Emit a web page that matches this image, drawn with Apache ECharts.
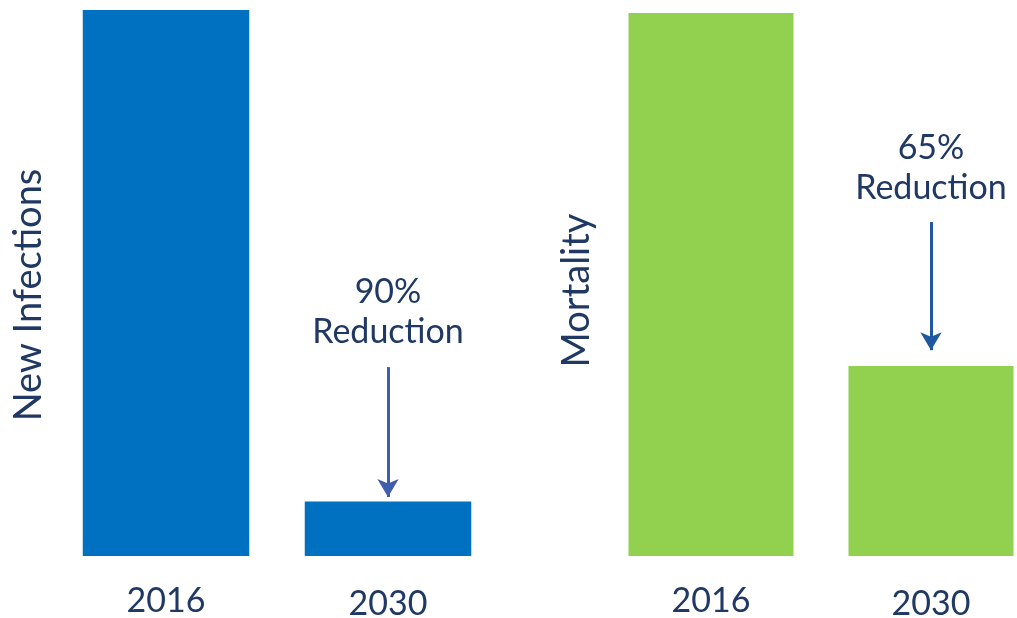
<!DOCTYPE html>
<html>
<head>
<meta charset="utf-8">
<script src="https://cdn.jsdelivr.net/npm/echarts@6/dist/echarts.min.js"></script>
<style>
  html, body { margin: 0; padding: 0; background: #ffffff; }
  #chart { width: 1017px; height: 618px; }
</style>
</head>
<body>
<div id="chart"></div>
<script>
// Indexed burden, 2016 = 100
const years = ['2016', '2030'];
const infections = [100, 10];
const mortality = [100, 35];

// Reduction call-outs: text, where the text block sits, arrow start and end (same index scale)
const infectionNote = ['90%', 'Reduction'];
const mortalityNote = ['65%', 'Reduction'];
const infectionNoteAt = 44.6;
const mortalityNoteAt = 71.5;
const infectionArrow = [34.6, 10.8];
const mortalityArrow = [61.5, 37.9];

const FONT = 'Lato, "Open Sans", sans-serif';
const NAVY = '#1F3864';
const BLUE = '#0070C0';
const GREEN = '#92D050';

const chart = echarts.init(document.getElementById('chart'));

function xAxisFor(gridIndex) {
  return {
    type: 'category',
    gridIndex: gridIndex,
    data: years,
    axisLine: { show: false },
    axisTick: { show: false },
    axisLabel: {
      margin: 28,
      formatter: function (v, i) { return '{' + (i === 0 ? 'a' : 'b') + '|' + v + '}'; },
      rich: {
        a: { color: NAVY, fontFamily: FONT, fontSize: 34 },
        b: { color: NAVY, fontFamily: FONT, fontSize: 34, padding: [3, 0, 0, 0] }
      }
    }
  };
}

// The title padding nudges the rotated text a little below the plot's middle
function yAxisFor(gridIndex, name, gap, shift) {
  return {
    type: 'value',
    gridIndex: gridIndex,
    min: 0,
    max: 100,
    name: name,
    nameLocation: 'middle',
    nameRotate: 90,
    nameGap: gap,
    nameTextStyle: { color: NAVY, fontFamily: FONT, fontSize: 38, padding: [0, shift, 0, 0] },
    axisLine: { show: false },
    axisTick: { show: false },
    axisLabel: { show: false },
    splitLine: { show: false }
  };
}

function barSeries(idx, values, color, note, noteAt, arrow, arrowColor) {
  return {
    type: 'bar',
    xAxisIndex: idx,
    yAxisIndex: idx,
    data: values,
    barWidth: '75%',
    itemStyle: { color: color },
    silent: true,
    animation: false,
    markPoint: {
      symbol: 'circle',
      symbolSize: 0,
      label: {
        show: true,
        position: 'inside',
        color: NAVY,
        fontFamily: FONT,
        fontSize: 34,
        lineHeight: 40,
        formatter: note.join('\n')
      },
      data: [{ coord: [years[1], noteAt] }]
    },
    markLine: {
      silent: true,
      symbol: ['none', 'arrow'],
      symbolSize: [16, 18],
      label: { show: false },
      lineStyle: { color: arrowColor, width: 3, type: 'solid' },
      data: [[{ coord: [years[1], arrow[0]] }, { coord: [years[1], arrow[1]] }]]
    }
  };
}

chart.setOption({
  backgroundColor: '#ffffff',
  animation: false,
  grid: [
    { left: 55, width: 444, top: 10, bottom: 62, outerBoundsMode: 'none' },
    { left: 601, width: 440, top: 13, bottom: 62, outerBoundsMode: 'none' }
  ],
  xAxis: [xAxisFor(0), xAxisFor(1)],
  yAxis: [yAxisFor(0, 'New Infections', 7, 24), yAxisFor(1, 'Mortality', 5, 12)],
  series: [
    barSeries(0, infections, BLUE, infectionNote, infectionNoteAt, infectionArrow, '#3F5EAB'),
    barSeries(1, mortality, GREEN, mortalityNote, mortalityNoteAt, mortalityArrow, '#1F58A0')
  ]
});
</script>
</body>
</html>
